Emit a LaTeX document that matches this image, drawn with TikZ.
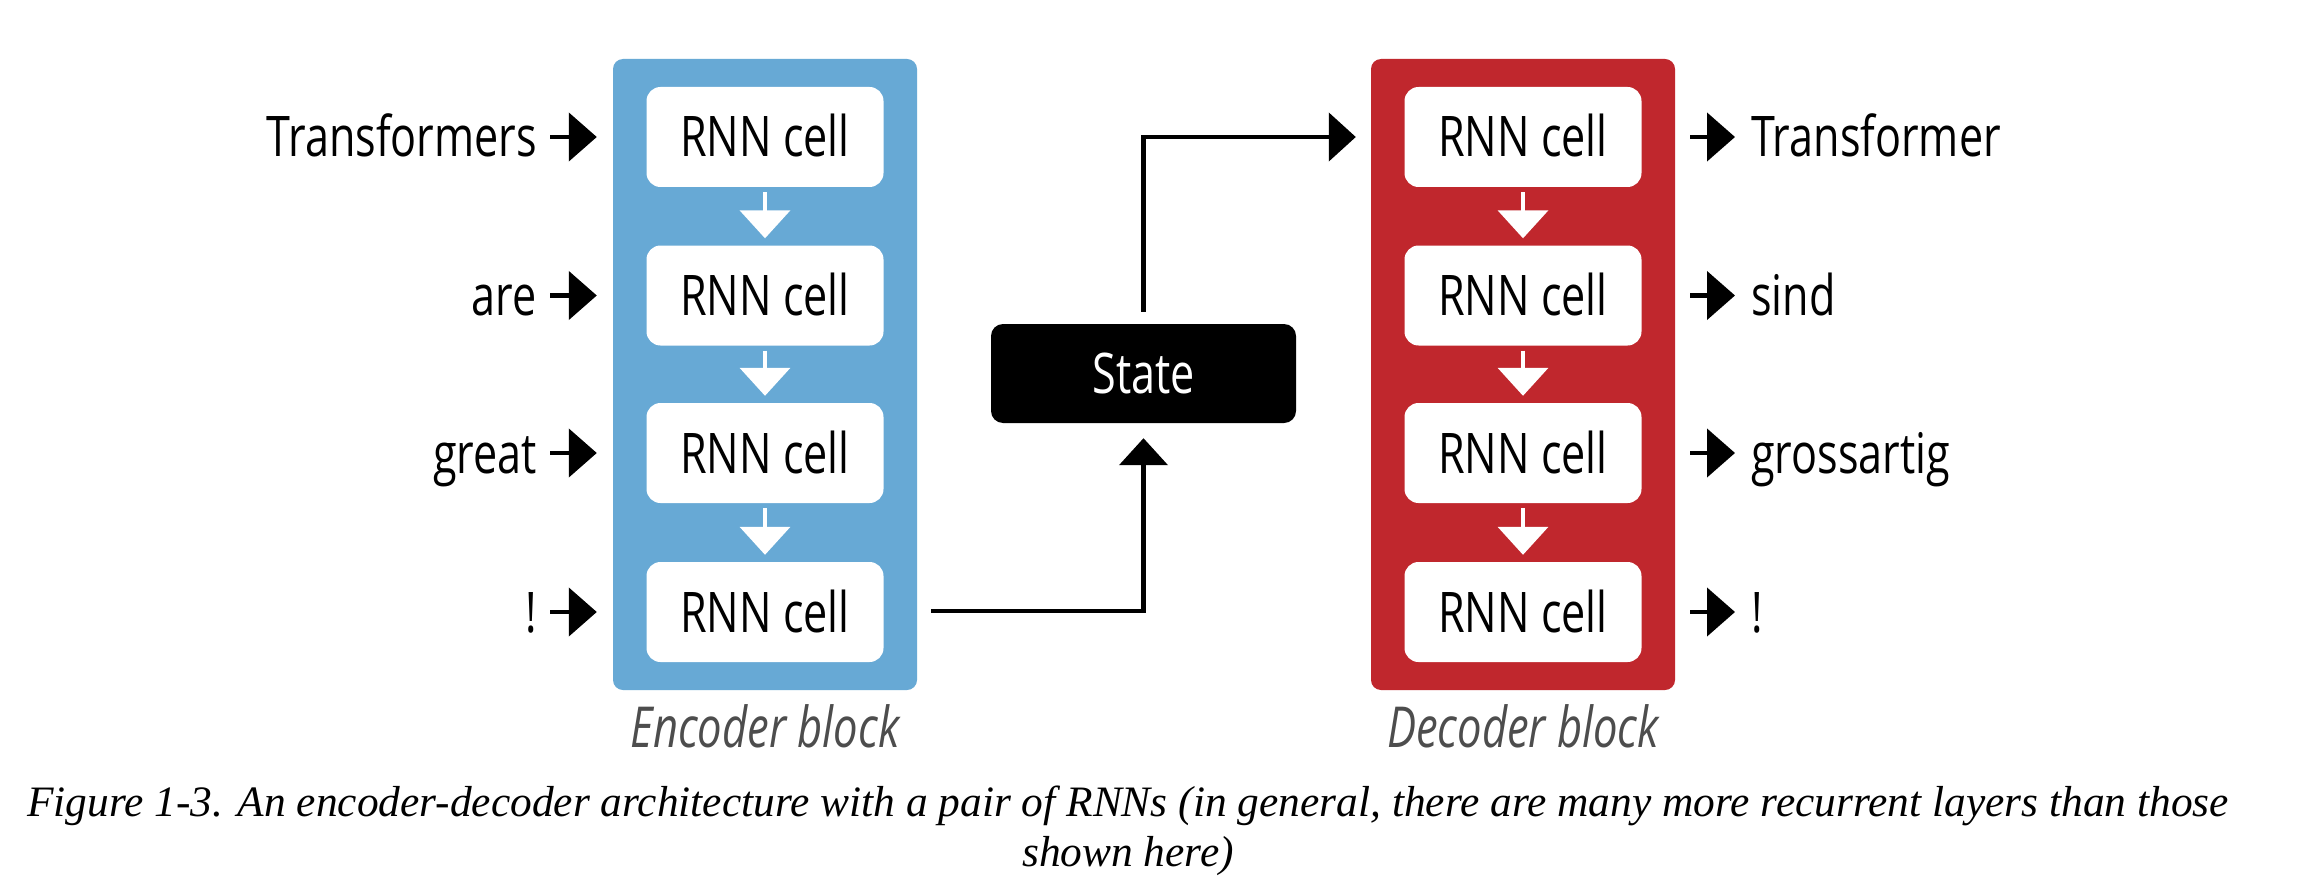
\documentclass[tikz,border=0pt]{standalone}
\usepackage{fontspec}
\setmainfont{Liberation Serif}
\newfontfamily\diagfont[FakeStretch=0.77]{Open Sans}
\usetikzlibrary{arrows.meta,calc}
\definecolor{encblue}{HTML}{67A9D5}
\definecolor{decred}{HTML}{C0272D}
\definecolor{lblgray}{HTML}{4D4D4D}
\begin{document}
\begin{tikzpicture}[x=1pt,y=-1pt,
  block/.style={minimum width=304pt,minimum height=631pt,rounded corners=10pt,inner sep=0pt},
  cell/.style={fill=white,rounded corners=14pt,minimum width=237pt,minimum height=100pt,inner sep=0pt,
    text height=40pt,text depth=0pt,font=\diagfont\fontsize{56}{60}\selectfont},
  statebox/.style={fill=black,text=white,rounded corners=12pt,minimum width=305pt,minimum height=99pt,inner sep=0pt,
    text height=40pt,text depth=0pt,font=\diagfont\fontsize{56}{60}\selectfont},
  word/.style={inner sep=0pt,font=\diagfont\fontsize{56}{60}\selectfont},
  blocklbl/.style={inner sep=0pt,text=lblgray,font=\diagfont\itshape\fontsize{56.5}{60}\selectfont},
  caption/.style={inner sep=0pt,font=\fontsize{43.4}{50}\selectfont\itshape},
  inarr/.style={line width=4.5pt,-{Triangle[length=28pt,width=48pt]}},
  downarr/.style={draw=white,line width=4pt,-{Triangle[length=28pt,width=50pt]},shorten <=5pt,shorten >=7pt},
  conn/.style={line width=4.5pt,-{Triangle[length=27pt,width=48pt]}}
]
\useasboundingbox (0,0) rectangle (2304,896);
\fill[white] (0,0) rectangle (2304,896);

% blocks
\node[block,fill=encblue] (enc) at (765,374.5) {};
\node[block,fill=decred] (dec) at (1523,374.5) {};

% encoder cells
\node[cell] (e1) at (765,137) {RNN cell};
\node[cell] (e2) at (765,295.5) {RNN cell};
\node[cell] (e3) at (765,453) {RNN cell};
\node[cell] (e4) at (765,612) {RNN cell};

% decoder cells
\node[cell] (d1) at (1523,137) {RNN cell};
\node[cell] (d2) at (1523,295.5) {RNN cell};
\node[cell] (d3) at (1523,453) {RNN cell};
\node[cell] (d4) at (1523,612) {RNN cell};

% state
\node[statebox] (state) at (1143.5,373.5) {State};

% inputs
\node[word,anchor=base east] (i1) at (537,157) {Transformers};
\node[word,anchor=base east] (i2) at (537,315.5) {are};
\node[word,anchor=base east] (i3) at (537,473) {great};
\node[word,anchor=base east] (i4) at (537,632) {!};

% outputs
\node[word,anchor=base west] (o1) at (1751,157) {Transformer};
\node[word,anchor=base west] (o2) at (1751,315.5) {sind};
\node[word,anchor=base west] (o3) at (1751,473) {grossartig};
\node[word,anchor=base west] (o4) at (1751,632) {!};

% block labels
\node[blocklbl,anchor=base] (encl) at (765,747) {Encoder block};
\node[blocklbl,anchor=base] (decl) at (1523,747) {Decoder block};

% input arrows
\foreach \i/\c in {i1/e1,i2/e2,i3/e3,i4/e4}{
  \draw[inarr] ($(\i.east |- \c)+(13,0)$) -- ($(enc.west |- \c)+(-16,0)$);
}
% output arrows
\foreach \c/\o in {d1/o1,d2/o2,d3/o3,d4/o4}{
  \draw[inarr] ($(dec.east |- \c)+(15,0)$) -- ($(\o.west |- \c)+(-16,0)$);
}
% white down arrows
\draw[downarr] (e1.south) -- (e2.north);
\draw[downarr] (e2.south) -- (e3.north);
\draw[downarr] (e3.south) -- (e4.north);
\draw[downarr] (d1.south) -- (d2.north);
\draw[downarr] (d2.south) -- (d3.north);
\draw[downarr] (d3.south) -- (d4.north);

% encoder -> state -> decoder
\draw[conn,shorten >=15pt] ($(enc.east |- e4)+(14,-1)$) -| (state.south);
\draw[conn] ($(state.north)+(0,-12)$) |- ($(dec.west |- d1)+(-15,0)$);

% caption
\node[caption,anchor=base] (cap1) at (1128,816) {Figure 1-3. An encoder-decoder architecture with a pair of RNNs (in general, there are many more recurrent layers than those};
\node[caption,anchor=base] (cap2) at (1128,866) {shown here)};
\end{tikzpicture}
\end{document}
